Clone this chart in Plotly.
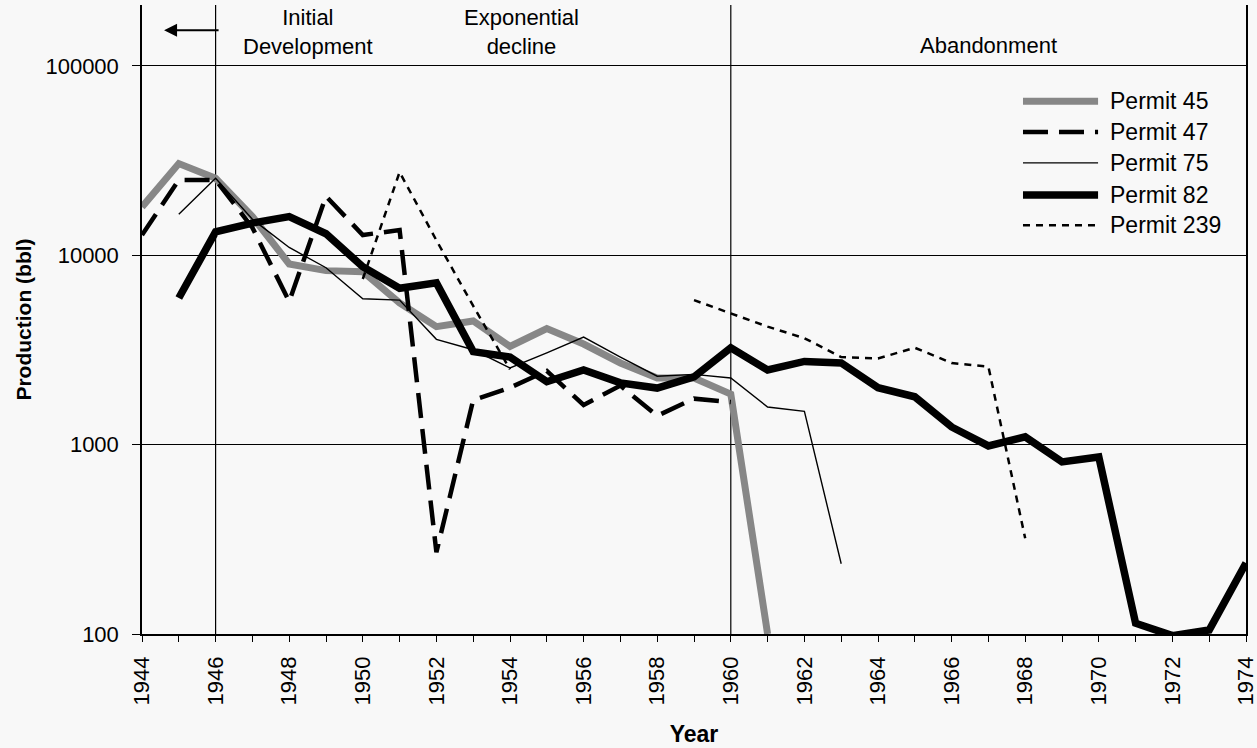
import plotly.graph_objects as go

# Annual production per permit, 1944-1974 (bbl); None = no production recorded
years = list(range(1944, 1975))

permit_45 = [18000, 30500, 25500, 16000, 9000, 8300, 8200, 5600, 4200, 4500,
             3300, 4100, 3400, 2700, 2250, 2250, 1850, 100, None, None,
             None, None, None, None, None, None, None, None, None, None, None]
permit_47 = [12800, 25000, 25000, 14000, 5700, 20500, 12800, 13600, 270, 1720,
             2000, 2450, 1620, 2050, 1420, 1750, 1680, None, None, None,
             None, None, None, None, None, None, None, None, None, None, None]
permit_75 = [None, 16500, 25500, 15500, 11000, 8600, 5900, 5800, 3600, 3170,
             2540, 3050, 3700, 2900, 2300, 2350, 2250, 1580, 1500, 235,
             None, None, None, None, None, None, None, None, None, None, None]
permit_82 = [None, 5950, 13300, 14800, 16000, 13000, 8700, 6700, 7150, 3100,
             2900, 2150, 2480, 2120, 1990, 2280, 3250, 2480, 2750, 2700,
             2000, 1790, 1240, 985, 1100, 811, 861, 114, 98, 105, 237]
permit_239 = [None, None, None, None, None, None, 7500, 27500, 12000, 5400,
              2500, None, None, None, None, 5800, 4950, 4200, 3650, 2900,
              2850, 3250, 2700, 2580, 320, None, None, None, None, None, None]

series_names = ["Permit 45", "Permit 47", "Permit 75", "Permit 82", "Permit 239"]
series_values = [permit_45, permit_47, permit_75, permit_82, permit_239]

# Phase boundaries and labels
phase_bounds = [1946, 1960]
phase_labels = [("Initial<br>Development", 1948.5, 0.957),
                ("Exponential<br>decline", 1954.3, 0.957),
                ("Abandonment", 1967.0, 0.936)]

y_ticks = [100, 1000, 10000, 100000]
x_ticks = list(range(1944, 1975, 2))

styles = {
    "Permit 45": dict(color="#878787", width=7, dash="solid"),
    "Permit 47": dict(color="black", width=4.5, dash="25px,11px"),
    "Permit 75": dict(color="black", width=1.4, dash="solid"),
    "Permit 82": dict(color="black", width=7.5, dash="solid"),
    "Permit 239": dict(color="black", width=2.5, dash="7px,6px"),
}
draw_order = ["Permit 45", "Permit 75", "Permit 47", "Permit 239", "Permit 82"]

FONT = "Liberation Sans, Arial, sans-serif"
BG = "#f8f8f8"

fig = go.Figure()
for name in draw_order:
    vals = series_values[series_names.index(name)]
    fig.add_trace(go.Scatter(
        x=years, y=vals, mode="lines", name=name, showlegend=False,
        line=dict(**styles[name]), connectgaps=False,
    ))

# Phase boundary lines
for b in phase_bounds:
    fig.add_shape(type="line", xref="x", yref="paper", x0=b, x1=b, y0=0, y1=1,
                  line=dict(color="black", width=1.2), layer="below")

# Phase labels
for text, xc, yc in phase_labels:
    fig.add_annotation(x=xc, y=yc, xref="x", yref="paper", text=text,
                       showarrow=False, yanchor="middle", align="center",
                       font=dict(family=FONT, size=22, color="black"))

# Arrow pointing back before 1946
fig.add_annotation(x=1944.6, y=0.960, xref="x", yref="paper",
                   ax=56, ay=0, axref="pixel", ayref="pixel", text="",
                   showarrow=True, arrowhead=2, arrowsize=1.3, arrowwidth=2,
                   arrowcolor="black")

# Legend drawn as line samples with labels
leg_y = [0.847, 0.798, 0.749, 0.698, 0.650]
for name, yy in zip(series_names, leg_y):
    st = styles[name]
    fig.add_shape(type="line", xref="paper", yref="paper", x0=0.798, x1=0.866,
                  y0=yy, y1=yy, line=dict(color=st["color"], width=st["width"],
                                          dash=st["dash"]))
    fig.add_annotation(x=0.875, y=yy, xref="paper", yref="paper", text=name,
                       showarrow=False, xanchor="left", yanchor="middle",
                       font=dict(family=FONT, size=23, color="black"))

fig.update_xaxes(
    range=[1944, 1974], tickvals=x_ticks, ticktext=[str(t) for t in x_ticks],
    tickangle=-90, ticks="outside", ticklen=6, tickcolor="black",
    minor=dict(dtick=1, ticks="outside", ticklen=6, tickcolor="black"),
    showgrid=False, zeroline=False, showline=True, linecolor="black", linewidth=1.5,
    tickfont=dict(family=FONT, size=22, color="black"), ticklabelstandoff=6,
    ticklabeloverflow="allow", automargin=False,
    title=dict(text="<b>Year</b>", font=dict(family=FONT, size=23, color="black"),
               standoff=21),
)
fig.update_yaxes(
    type="log", range=[2, 5.322], tickvals=y_ticks, ticktext=[str(t) for t in y_ticks],
    ticks="outside", ticklen=8, tickcolor="black",
    showgrid=True, gridcolor="black", gridwidth=1.2,
    zeroline=False, showline=True, linecolor="black", linewidth=1.5, mirror=True,
    tickfont=dict(family=FONT, size=22, color="black"), ticklabelstandoff=9,
    automargin=False,
    title=dict(text="<b>Production (bbl)</b>", font=dict(family=FONT, size=21, color="black"),
               standoff=8),
)

fig.update_layout(
    width=1257, height=748,
    margin=dict(l=142, r=11, t=5, b=114),
    paper_bgcolor=BG, plot_bgcolor=BG,
    font=dict(family=FONT, color="black"),
    showlegend=False,
)

fig.write_html("out.html")
